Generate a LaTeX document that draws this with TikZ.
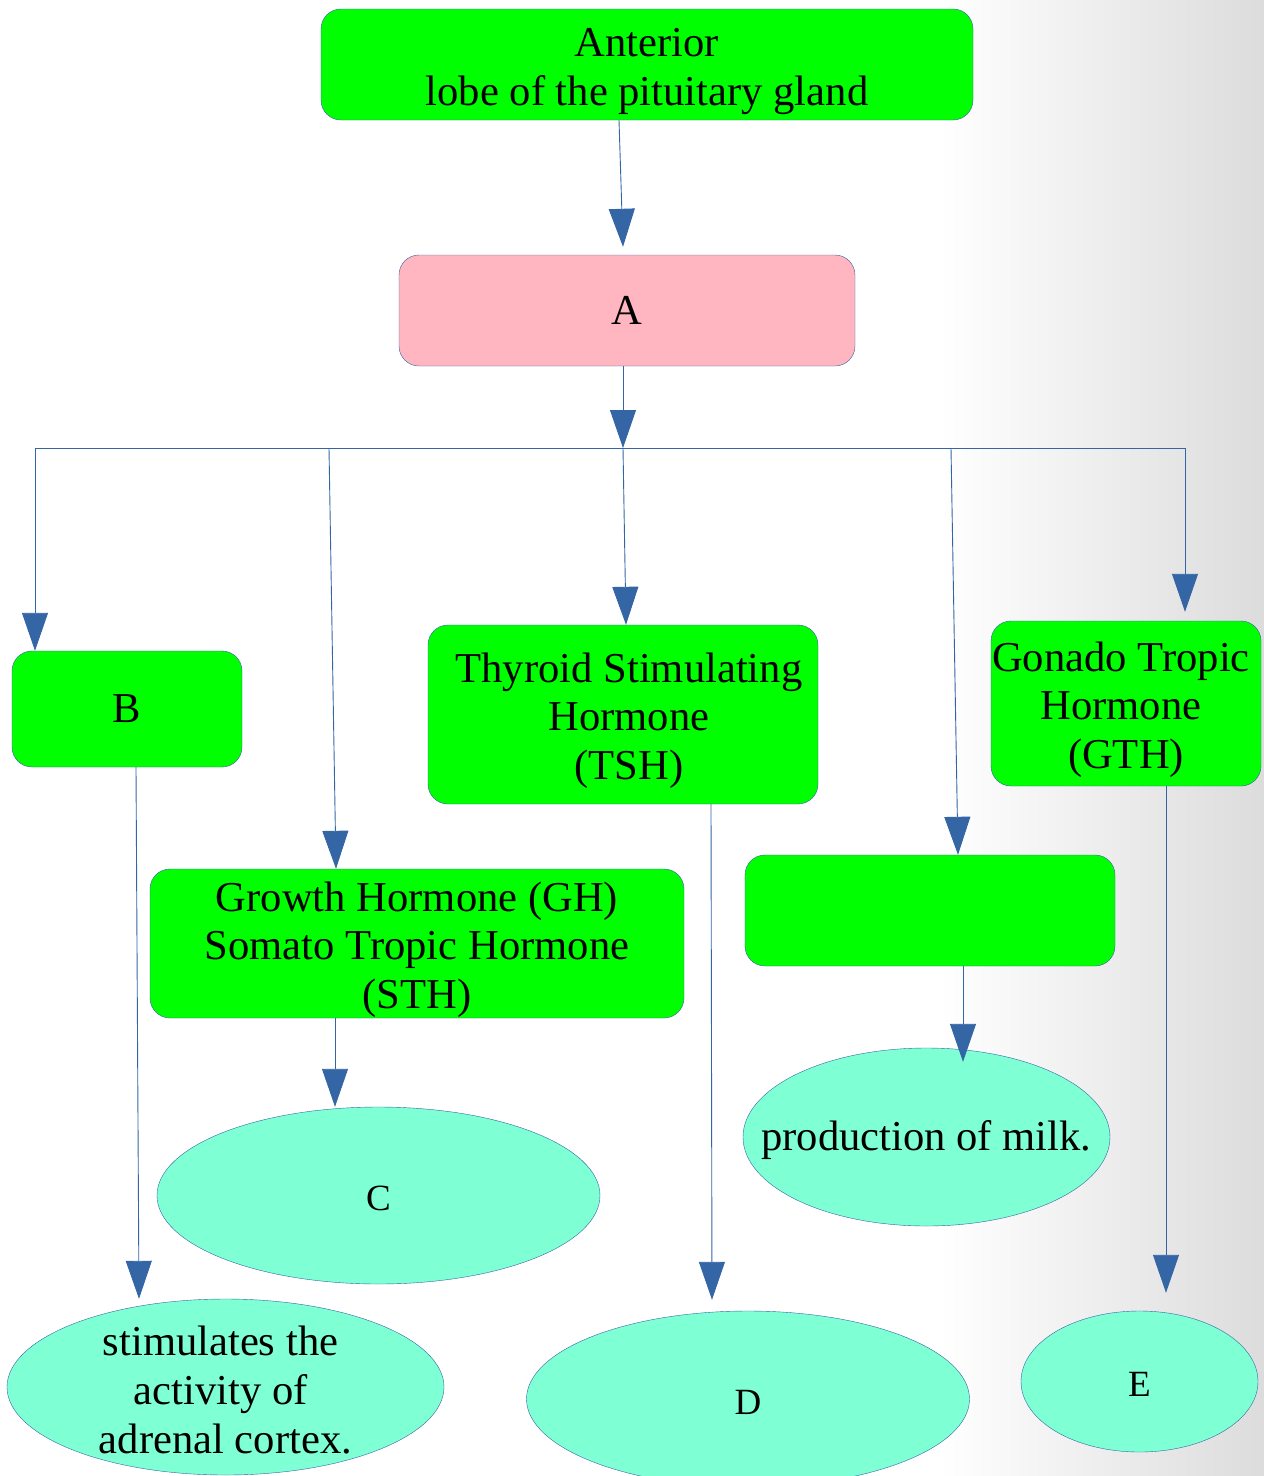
\documentclass[tikz,border=0pt]{standalone}
\usepackage{fontspec}
\setmainfont{Liberation Serif}
\usetikzlibrary{arrows.meta,shapes.geometric}
\definecolor{linkblue}{HTML}{3465A4}
\definecolor{boxgreen}{HTML}{00FF00}
\definecolor{boxpink}{HTML}{FFB6C1}
\definecolor{ovalaqua}{HTML}{7FFFD4}
\definecolor{edgegray}{HTML}{DCDCDC}
\tikzset{
  box/.style={draw=linkblue, fill=boxgreen, rounded corners=20pt, align=center, inner sep=0pt},
  oval/.style={draw=linkblue, fill=ovalaqua, ellipse, inner sep=0pt, label={[align=center, yshift=-3pt]center:#1}},
  bus/.style={draw=linkblue, line width=0.9pt},
  link/.style={bus, -{Triangle[width=26pt,length=38pt]}}
}
\newcommand{\letterfont}{\fontsize{37}{42}\selectfont}
\newcommand{\lift}{\rule{0pt}{42pt}}
\begin{document}
\begin{tikzpicture}[x=1pt,y=-1pt,font=\fontsize{42.6}{48.8}\selectfont]
\useasboundingbox (0,0) rectangle (1264,1476);
\shade[left color=white,right color=edgegray] (940,0) rectangle (1264,1476);
\node[box, minimum width=652pt, minimum height=111pt] (pit) at (647,64.5) {\lift Anterior\\lobe of the pituitary gland};
\node[box, fill=boxpink, minimum width=456pt, minimum height=111pt] (A) at (627,310.5) {A};
\node[box, minimum width=230pt, minimum height=116pt] (B) at (127,709) {B};
\node[box, minimum width=390pt, minimum height=179pt] (tsh) at (623,714.5) {\lift\hspace{12pt}Thyroid Stimulating\\\hspace{12pt}Hormone\\\hspace{12pt}(TSH)};
\node[box, minimum width=270pt, minimum height=165pt] (gth) at (1126,703.5) {\lift\hspace{-10pt}Gonado Tropic\\\hspace{-10pt}Hormone\\(GTH)};
\node[box, minimum width=534pt, minimum height=149pt] (gh) at (417,943.5) {\lift Growth Hormone (GH)\\Somato Tropic Hormone\\(STH)};
\node[box, minimum width=370pt, minimum height=111pt] (prl) at (930,910.5) {};
\node[oval={\letterfont C}, minimum width=443pt, minimum height=177pt] (C) at (378.5,1195.5) {};
\node[oval={production of milk.}, minimum width=367pt, minimum height=178pt] (milk) at (926.5,1137) {};
\node[oval={\hspace{-10pt}stimulates the\\\hspace{-10pt}activity of\\adrenal cortex.}, minimum width=437pt, minimum height=176pt] (adr) at (225.5,1387) {};
\node[oval={\letterfont D}, minimum width=443pt, minimum height=176pt] (D) at (748,1399) {};
\node[oval={\letterfont E}, minimum width=237pt, minimum height=141pt] (E) at (1139.5,1381.5) {};
\coordinate (hub) at (623,448);
\coordinate (busL) at (35,448);
\coordinate (busR) at (1185,448);
\coordinate (busGH) at (329,448);
\coordinate (busPRL) at (951,448);
\draw[link] ([xshift=-28pt]pit.south) -- ([xshift=-4pt,yshift=8pt]A.north);
\draw[link] ([xshift=-4pt]A.south) -- (hub);
\draw[bus] (busL) -- (busR);
\draw[link] (busL) -- (B.north -| busL);
\draw[link] (busGH) -- ([xshift=-81pt]gh.north);
\draw[link] (hub) -- ([xshift=3pt]tsh.north);
\draw[link] (busPRL) -- ([xshift=28pt]prl.north);
\draw[link] (busR) -- ([xshift=59pt,yshift=9pt]gth.north);
\draw[link] ([xshift=9pt]B.south) -- ([xshift=-86.5pt]adr.north);
\draw[link] ([xshift=-82pt]gh.south) -- ([xshift=-43.5pt]C.north);
\draw[link] ([xshift=88pt]tsh.south) -- ([xshift=-36pt,yshift=11pt]D.north);
\draw[link] ([xshift=33pt]prl.south) -- ([xshift=36.5pt,yshift=-14pt]milk.north);
\draw[link] ([xshift=40pt]gth.south) -- ([xshift=26.5pt,yshift=18pt]E.north);
\end{tikzpicture}
\end{document}
